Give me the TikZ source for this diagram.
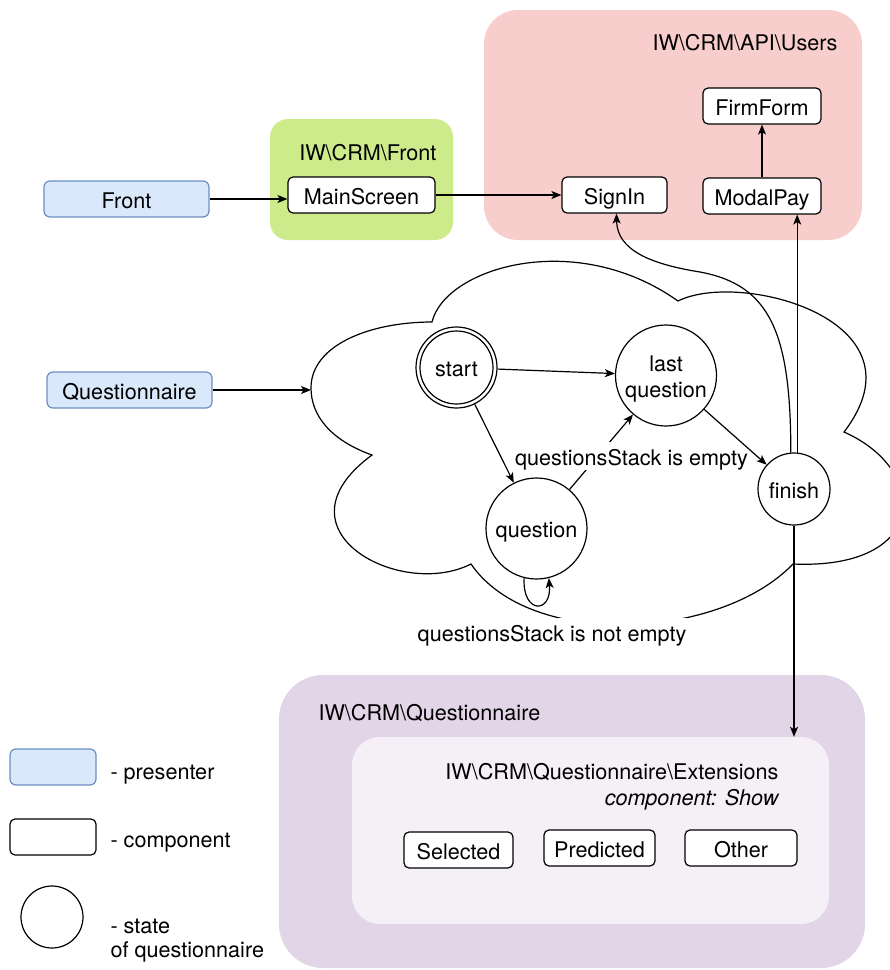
\documentclass[tikz,border=0pt]{standalone}
\usepackage{fontspec}
\setmainfont{TeX Gyre Heros}
\usetikzlibrary{arrows.meta,calc}

\definecolor{presfill}{HTML}{DAE8FC}
\definecolor{presline}{HTML}{6C8EBF}
\definecolor{frontpkg}{HTML}{CDEB8B}
\definecolor{userspkg}{HTML}{F8CECC}
\definecolor{questpkg}{HTML}{E1D5E7}
\definecolor{extpkg}{HTML}{F5F0F6}

\tikzset{
  every node/.style={font=\fontsize{21.6}{25}\selectfont, text height=23pt, text depth=4.4pt},
  free/.style={text height={}, text depth={}},
  comp/.style={draw=black, fill=white, rounded corners=5, line width=1.2,
    minimum height=36, inner sep=0},
  presenter/.style={draw=presline, fill=presfill, rounded corners=6, line width=1.2,
    minimum height=36, inner sep=0},
  pkg/.style={rounded corners=#1, inner sep=0},
  state/.style={circle, draw=black, fill=white, line width=1.2, inner sep=0, align=center},
  arr/.style={-{Stealth[length=10pt,width=8pt,inset=2.5pt]}, line width=1.2},
  lbl/.style={fill=white, inner sep=0.5},
}

\begin{document}
\begin{tikzpicture}[x=1pt,y=-1pt]
\useasboundingbox (0,0) rectangle (890,970);

% ---- packages (containers) ----
\node[pkg=18, fill=frontpkg, minimum width=183, minimum height=121] (frontbox) at (361.5,179.5) {};
\node[anchor=east] (frontname) at (440,151) {IW\textbackslash CRM\textbackslash Front};

\node[pkg=34, fill=userspkg, minimum width=378, minimum height=230] (usersbox) at (673,125) {};
\node[anchor=east] (usersname) at (841,41) {IW\textbackslash CRM\textbackslash API\textbackslash Users};

\node[pkg=44, fill=questpkg, minimum width=586, minimum height=293] (questbox) at (572,821.5) {};
\node[anchor=west] (questname) at (315,711) {IW\textbackslash CRM\textbackslash Questionnaire};

\node[pkg=28, fill=extpkg, minimum width=477, minimum height=187] (extbox) at (590.5,830.5) {};
\node[anchor=east] (extname) at (782,770) {IW\textbackslash CRM\textbackslash Questionnaire\textbackslash Extensions};
\node[anchor=east] (extcomp) at (782,796) {\itshape component: Show};

% ---- presenters and components ----
\node[presenter, minimum width=165] (front) at (126.5,199) {Front};
\node[presenter, minimum width=165] (quest) at (129.5,390) {Questionnaire};

\node[comp, minimum width=147] (mainscreen) at (361.5,195) {MainScreen};
\node[comp, minimum width=118] (firmform) at (762,106) {FirmForm};
\node[comp, minimum width=105] (signin) at (614.5,195) {SignIn};
\node[comp, minimum width=118] (modalpay) at (762,196) {ModalPay};

\node[comp, minimum width=109] (selected) at (458.5,850) {Selected};
\node[comp, minimum width=111] (predicted) at (599.5,848) {Predicted};
\node[comp, minimum width=112] (other) at (741,848) {Other};

% ---- questionnaire state cloud ----
\coordinate (cloudW) at (311,388);
\draw[line width=1.2, fill=white]
  (cloudW) .. controls (311,345) and (370,322) .. (432,322)
  .. controls (445,268) and (575,228) .. (678,301)
  .. controls (740,270) and (930,320) .. (844,432)
  .. controls (930,470) and (930,570) .. (793,564)
  .. controls (720,640) and (530,650) .. (471,564)
  .. controls (400,600) and (270,530) .. (372,455)
  .. controls (330,440) and (311,415) .. (cloudW) -- cycle;

% ---- states ----
\node[state, minimum size=81] (start) at (456.5,367.5) {start};
\draw[line width=1.2] (start.center) circle[radius=36.5];
\node[state, minimum size=101] (lastq) at (666,375.5) {};
\node[free, align=center] (lastqtext) at (666,378.5) {last\\[1pt]question};
\node[state, minimum size=101] (question) at (536.5,528.5) {question};
\node[state, minimum size=72] (finish) at (794,489) {finish};

% ---- transitions ----
\draw[arr] (start) -- (lastq);
\draw[arr] (start) -- (question);
\draw[arr] (question) -- (lastq);
\node[lbl] (emptylbl) at (631.5,456) {questionsStack is empty};
\draw[arr] (lastq) -- (finish);
\draw[arr] (question.-104) .. controls +(-2,36) and +(3,36) .. (question.-76);
\node[lbl] (notemptylbl) at (552,632) {questionsStack is not empty};

% ---- links between parts ----
\draw[arr] (front.east) -- (front.east -| mainscreen.west);
\draw[arr] (quest.east) -- (quest.east -| cloudW);
\draw[arr] (mainscreen.east) -- (signin.west);
\draw[arr] (modalpay.north) -- (firmform.south);
\draw[arr] (finish.85) -- (finish.85 |- modalpay.south);
\coordinate (bend) at (700,272);
\draw[arr] (finish.95) .. controls +(0,-120) and (770,285) .. (bend)
  .. controls (650,264) and (617,250) .. ([xshift=2pt]signin.south);
\draw[arr] (finish.south) -- (finish.south |- extbox.north);

% ---- legend ----
\node[presenter, minimum width=86] (legpres) at (53,767) {};
\node[anchor=west] (legprestxt) at (107,770) {- presenter};
\node[comp, minimum width=86] (legcomp) at (53,837) {};
\node[anchor=west] (legcomptxt) at (107,838) {- component};
\node[state, minimum size=62] (legstate) at (52,917) {};
\node[free, anchor=west, align=left] (legstatetxt) at (107,940.5) {- state\\[-1pt]of questionnaire};
\end{tikzpicture}
\end{document}
